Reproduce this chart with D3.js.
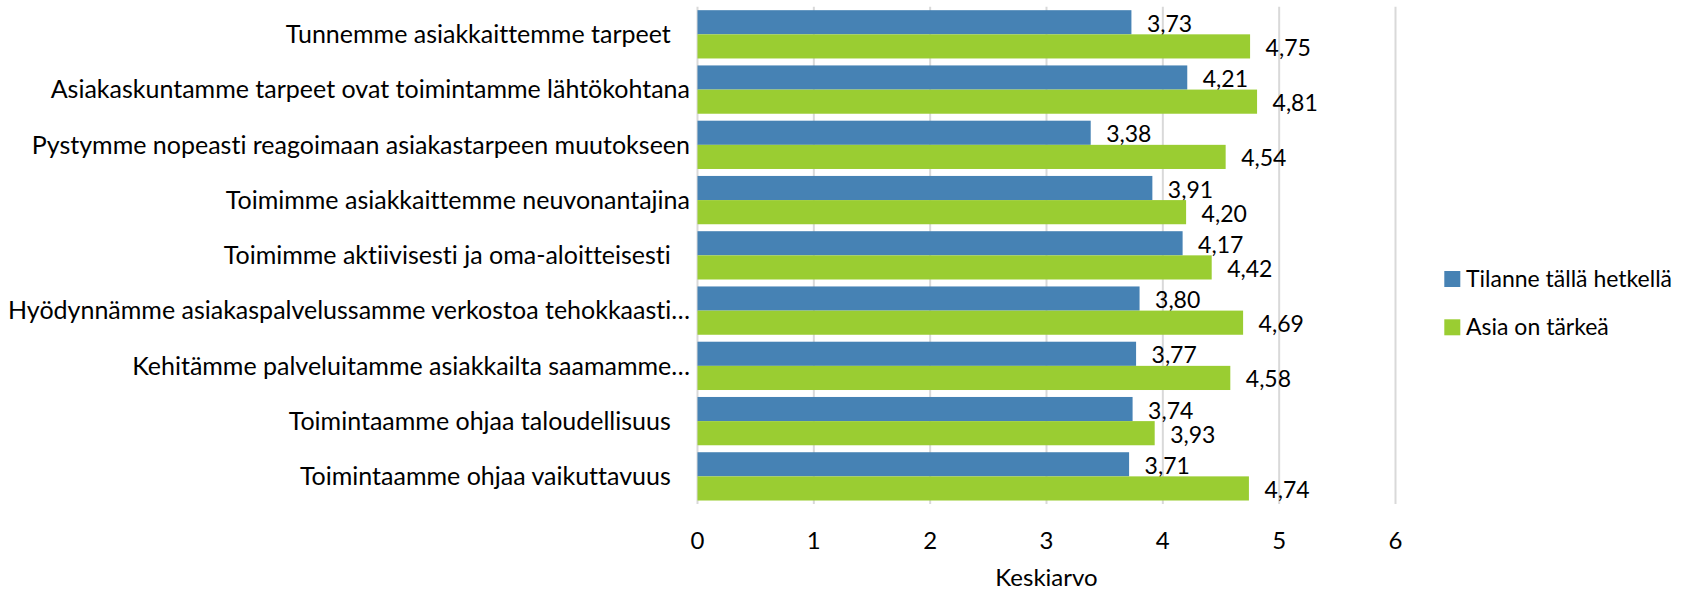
<!DOCTYPE html>
<html>
<head>
<meta charset="utf-8">
<script src="https://cdn.jsdelivr.net/npm/d3@7"></script>
<style>
  html, body { margin: 0; padding: 0; background: #fff; }
  svg { display: block; }
  text { font-family: Lato, "Open Sans", sans-serif; fill: #000; white-space: pre; font-variant-ligatures: none; font-feature-settings: "liga" 0, "clig" 0; }
</style>
</head>
<body>
<svg id="chart" width="1705" height="592"></svg>
<script>
const categories = [
  "Tunnemme asiakkaittemme tarpeet   ",
  "Asiakaskuntamme tarpeet ovat toimintamme lähtökohtana",
  "Pystymme nopeasti reagoimaan asiakastarpeen muutokseen",
  "Toimimme asiakkaittemme neuvonantajina",
  "Toimimme aktiivisesti ja oma-aloitteisesti   ",
  "Hyödynnämme asiakaspalvelussamme verkostoa tehokkaasti…",
  "Kehitämme palveluitamme asiakkailta saamamme…",
  "Toimintaamme ohjaa taloudellisuus   ",
  "Toimintaamme ohjaa vaikuttavuus   "
];
const seriesNames = ["Tilanne tällä hetkellä", "Asia on tärkeä"];
const currentValues = [3.73, 4.21, 3.38, 3.91, 4.17, 3.80, 3.77, 3.74, 3.71];
const importanceValues = [4.75, 4.81, 4.54, 4.20, 4.42, 4.69, 4.58, 3.93, 4.74];
const xTicks = [0, 1, 2, 3, 4, 5, 6];
const axisTitle = "Keskiarvo";
const colors = ["#4682B4", "#9ACD32"];

const svg = d3.select("#chart");
const fontSize = 23;
const catFontSize = 25;
const fmt = v => d3.format(".2f")(v).replace(".", ",");

const x = d3.scaleLinear().domain([0, 6]).range([697.5, 1395.5]);
const y = d3.scaleBand().domain(d3.range(categories.length)).range([6.7, 504])
  .paddingInner(0.126).paddingOuter(0.063);
const sub = d3.scaleBand().domain([0, 1]).range([0, y.bandwidth()]);

// gridlines
svg.append("g").selectAll("line").data(xTicks).join("line")
  .attr("x1", d => x(d)).attr("x2", d => x(d))
  .attr("y1", 6.7).attr("y2", 504)
  .attr("stroke", "#d9d9d9").attr("stroke-width", 2);

const series = [currentValues, importanceValues];
series.forEach((vals, si) => {
  const g = svg.append("g");
  g.selectAll("rect").data(vals).join("rect")
    .attr("x", x(0))
    .attr("y", (d, i) => y(i) + sub(si))
    .attr("width", d => x(d) - x(0))
    .attr("height", sub.bandwidth())
    .attr("fill", colors[si]);
  g.selectAll("text").data(vals).join("text")
    .attr("x", d => x(d) + 15.5)
    .attr("y", (d, i) => y(i) + sub(si) + sub.bandwidth() / 2 + 9.5)
    .attr("font-size", fontSize)
    .text(d => fmt(d));
});

// category labels
svg.append("g").selectAll("text").data(categories).join("text")
  .attr("x", 690)
  .attr("y", (d, i) => y(i) + y.bandwidth() / 2)
  .attr("dy", "0.35em")
  .attr("text-anchor", "end")
  .attr("font-size", catFontSize)
  .text(d => d);

// x tick labels
svg.append("g").selectAll("text").data(xTicks).join("text")
  .attr("x", d => x(d))
  .attr("y", 548.5)
  .attr("text-anchor", "middle")
  .attr("font-size", 24)
  .text(d => d);

svg.append("text")
  .attr("x", x(3)).attr("y", 586)
  .attr("text-anchor", "middle")
  .attr("font-size", 24)
  .text(axisTitle);

// legend
const leg = svg.append("g");
seriesNames.forEach((name, i) => {
  const cy = 279 + i * 48.3;
  leg.append("rect").attr("x", 1444.3).attr("y", cy - 8).attr("width", 16).attr("height", 16)
    .attr("fill", colors[i]);
  leg.append("text").attr("x", 1466).attr("y", cy).attr("dy", "0.35em")
    .attr("font-size", fontSize).text(name);
});
</script>
</body>
</html>
